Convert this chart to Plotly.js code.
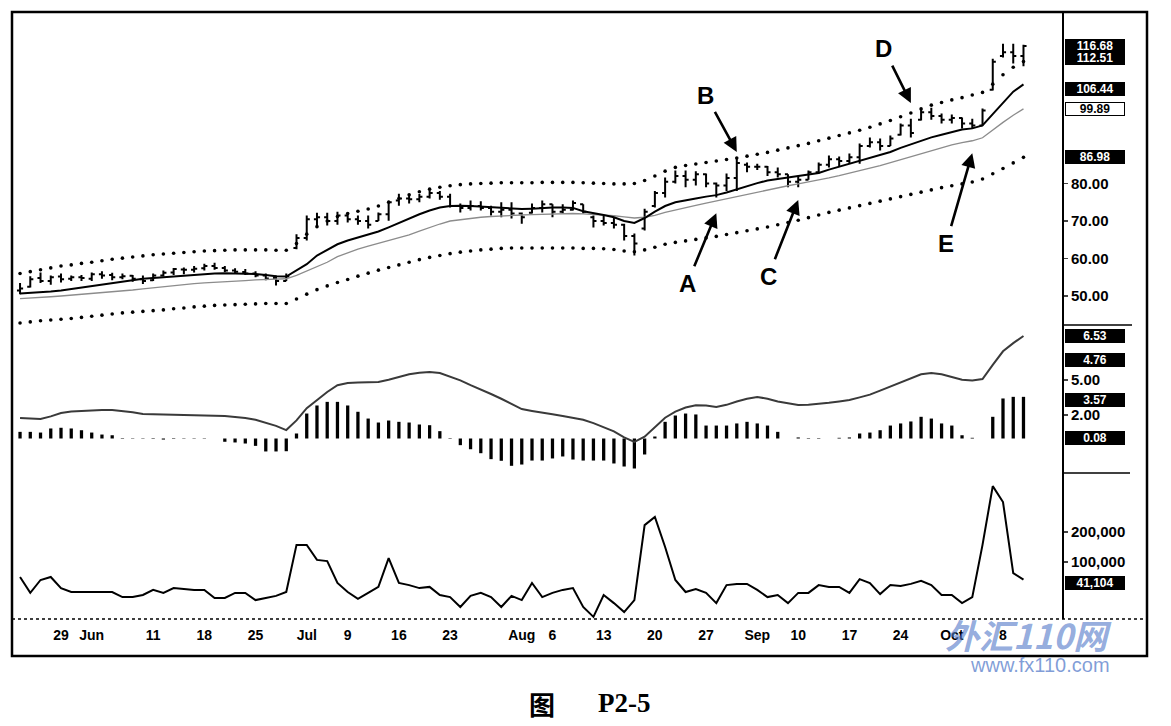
<!DOCTYPE html>
<html>
<head>
<meta charset="utf-8">
<script src="https://cdn.plot.ly/plotly-3.0.1.min.js"></script>
<style>html,body{margin:0;padding:0;background:#fff;}#chart{width:1171px;height:726px;}</style>
</head>
<body>
<div id="chart"></div>
<script>
// ---------- data ----------
const dates = [
 'May 22','May 23','May 24','May 25','May 29','May 30','May 31','Jun 1','Jun 4','Jun 5',
 'Jun 6','Jun 7','Jun 8','Jun 11','Jun 12','Jun 13','Jun 14','Jun 15','Jun 18','Jun 19',
 'Jun 20','Jun 21','Jun 22','Jun 25','Jun 26','Jun 27','Jun 28','Jun 29','Jul 2','Jul 3',
 'Jul 5','Jul 6','Jul 9','Jul 10','Jul 11','Jul 12','Jul 13','Jul 16','Jul 17','Jul 18',
 'Jul 19','Jul 20','Jul 23','Jul 24','Jul 25','Jul 26','Jul 27','Jul 30','Jul 31','Aug 1',
 'Aug 2','Aug 3','Aug 6','Aug 7','Aug 8','Aug 9','Aug 10','Aug 13','Aug 14','Aug 15',
 'Aug 16','Aug 17','Aug 20','Aug 21','Aug 22','Aug 23','Aug 24','Aug 27','Aug 28','Aug 29',
 'Aug 30','Aug 31','Sep 4','Sep 5','Sep 6','Sep 7','Sep 10','Sep 11','Sep 12','Sep 13',
 'Sep 14','Sep 17','Sep 18','Sep 19','Sep 20','Sep 21','Sep 24','Sep 25','Sep 26','Sep 27',
 'Sep 28','Oct 1','Oct 2','Oct 3','Oct 4','Oct 5','Oct 8','Oct 9','Oct 10'
];
const open = [
 51.5,52.5,54.8,54.0,55.2,54.6,55.0,54.6,55.8,55.6,
 55.0,55.4,54.5,54.2,55.5,56.3,57.1,57.0,57.4,58.0,
 57.5,56.8,56.4,56.0,55.5,54.8,54.0,62.8,65.5,70.5,
 71.0,70.0,71.5,70.5,70.0,70.0,71.8,75.5,76.0,75.8,
 76.5,77.5,76.5,74.0,73.5,74.0,73.5,72.5,73.0,72.0,
 72.2,73.5,74.5,72.5,73.0,74.5,71.0,70.0,69.5,69.0,
 66.0,68.0,74.0,77.5,80.5,82.0,81.0,82.5,80.0,79.5,
 81.5,85.0,84.5,84.5,83.0,82.5,80.5,81.0,83.0,85.0,
 86.5,86.0,87.0,90.0,91.0,90.0,93.0,95.5,97.0,99.0,
 98.0,97.0,97.5,96.0,95.5,105.0,114.0,115.0,114.0
];
const high = [
 53.5,55.3,56.3,55.5,56.0,55.5,55.6,56.3,56.6,56.2,
 56.0,55.6,55.5,56.0,56.8,57.5,57.6,58.0,58.6,58.9,
 58.0,57.4,57.2,56.6,56.0,55.5,56.0,66.5,71.5,72.2,
 72.2,72.5,72.0,71.5,71.5,72.3,75.5,77.3,77.0,77.2,
 78.2,78.0,77.3,74.7,75.5,75.3,74.1,75.0,75.0,72.3,
 74.7,75.5,74.5,74.5,75.5,74.5,71.5,71.5,71.0,69.3,
 66.7,73.3,78.0,81.6,83.5,83.5,83.3,82.7,80.3,82.7,
 86.7,85.6,85.3,84.7,84.3,82.5,82.0,83.5,85.6,87.5,
 87.2,88.0,90.7,92.3,92.0,92.8,96.0,97.3,100.0,100.2,
 98.7,98.4,97.6,97.3,100.0,113.3,117.3,117.3,117.0
];
const low = [
 50.5,52.3,53.5,53.0,53.6,54.0,54.0,54.0,54.6,54.2,
 54.5,53.8,53.2,54.0,55.2,55.6,55.8,56.3,56.8,57.0,
 56.4,56.0,55.6,55.0,54.2,52.8,54.0,62.5,64.8,68.2,
 68.8,69.0,69.6,69.0,68.0,70.0,70.1,74.1,74.7,75.0,
 76.0,75.7,73.6,72.3,72.8,72.8,71.5,71.0,70.7,69.3,
 72.0,72.3,71.0,72.0,72.8,72.0,68.3,68.8,68.0,64.8,
 60.8,67.5,73.6,76.3,80.0,79.0,79.5,79.0,76.3,78.0,
 78.0,83.0,83.6,82.0,81.6,79.0,79.0,81.0,82.7,84.3,
 84.5,85.3,85.3,89.6,88.8,90.0,92.8,92.3,96.8,97.0,
 96.0,96.0,94.7,94.7,95.5,104.8,113.6,112.0,111.3
];
const close = [
 52.0,54.5,54.0,55.0,54.5,55.0,54.8,55.8,55.5,55.0,
 55.3,54.6,54.0,55.5,56.2,57.2,57.0,57.3,58.0,57.5,
 56.8,56.5,56.0,55.5,54.7,54.0,55.2,65.5,70.5,71.0,
 70.0,71.5,70.5,70.0,69.0,71.8,75.0,76.0,75.8,76.5,
 77.5,76.5,74.0,73.5,74.0,73.5,72.5,73.0,72.0,71.0,
 73.5,74.5,72.5,73.0,74.8,72.5,70.0,69.5,69.0,66.0,
 64.0,72.5,77.5,80.5,82.0,81.0,82.5,80.0,79.5,81.5,
 85.5,84.5,84.5,83.0,82.5,80.5,81.0,83.0,85.0,86.5,
 86.0,87.0,90.0,91.0,90.0,92.0,95.5,93.5,99.0,98.0,
 97.0,97.5,96.0,95.5,99.5,112.5,115.0,114.0,116.68
];
const maFast = [
 50.7,50.8,50.9,51.2,51.5,51.9,52.3,52.7,53.0,53.5,
 53.9,54.2,54.6,54.8,55.0,55.3,55.6,55.8,56.0,56.0,
 56.1,56.1,56.0,55.9,55.6,55.3,55.2,56.8,58.5,60.8,
 62.3,63.8,64.8,65.6,66.3,67.2,68.3,69.5,70.7,71.8,
 72.8,73.6,74.0,74.1,74.0,73.8,73.6,73.4,73.3,73.2,
 73.3,73.5,73.6,73.6,73.5,72.6,72.2,71.6,71.0,70.0,
 69.5,70.8,72.5,74.0,75.0,75.6,76.0,76.5,76.9,77.6,
 78.5,79.3,80.1,80.8,81.2,81.5,81.8,82.2,82.8,83.7,
 84.5,85.2,86.0,86.8,87.6,88.4,89.5,90.5,91.5,92.3,
 93.0,93.7,94.4,94.7,95.5,98.5,101.5,104.5,106.44
];
const maSlow = [
 49.3,49.4,49.6,49.8,50.0,50.2,50.4,50.6,50.8,51.0,
 51.3,51.6,51.9,52.2,52.5,52.8,53.1,53.3,53.5,53.6,
 53.8,54.0,54.1,54.3,54.4,54.5,54.6,55.5,56.6,57.8,
 59.0,60.5,61.6,62.5,63.3,64.0,64.7,65.4,66.3,67.3,
 68.3,69.2,70.0,70.4,70.7,71.0,71.2,71.4,71.5,71.6,
 71.7,71.8,71.9,72.0,72.0,71.9,71.8,71.6,71.4,71.1,
 70.8,71.0,71.5,72.3,73.0,73.6,74.2,74.8,75.4,76.0,
 76.6,77.1,77.7,78.3,78.9,79.4,79.9,80.4,80.9,81.5,
 82.1,82.7,83.4,84.1,84.8,85.6,86.4,87.2,88.0,88.8,
 89.6,90.3,90.9,91.4,92.2,94.3,96.3,98.2,99.89
];
const envUpper = [
 56.0,56.5,57.0,57.5,58.0,58.3,58.7,59.0,59.4,59.8,
 60.1,60.4,60.7,61.0,61.2,61.4,61.6,61.8,62.0,62.1,
 62.2,62.3,62.3,62.3,62.3,62.2,62.2,64.0,66.5,68.5,
 70.0,71.2,72.0,72.6,73.2,74.0,75.0,76.0,77.0,77.8,
 78.5,79.0,79.4,79.7,79.9,80.0,80.1,80.2,80.2,80.2,
 80.2,80.3,80.3,80.3,80.3,80.2,80.1,80.0,79.9,79.9,
 80.0,80.8,82.0,83.3,84.3,84.8,85.2,85.6,86.0,86.4,
 86.8,87.3,87.8,88.3,88.9,89.5,90.1,90.7,91.4,92.1,
 92.8,93.5,94.2,95.0,95.9,96.8,97.8,98.8,99.9,100.9,
 101.6,102.3,102.9,103.6,104.3,106.5,109.0,111.0,112.51
];
const envLower = [
 42.8,43.1,43.4,43.6,43.8,44.0,44.3,44.6,44.9,45.2,
 45.5,45.7,45.9,46.1,46.3,46.6,46.8,47.1,47.3,47.5,
 47.6,47.7,47.8,47.9,48.0,48.0,48.0,49.2,50.5,51.7,
 52.7,53.6,54.4,55.3,56.1,56.9,57.6,58.3,59.0,59.7,
 60.3,60.8,61.3,61.7,62.0,62.3,62.5,62.7,62.8,62.8,
 62.8,62.8,62.8,62.8,62.8,62.7,62.7,62.6,62.4,62.0,
 61.8,62.3,63.0,63.8,64.3,64.7,65.1,65.5,65.9,66.4,
 66.9,67.4,67.9,68.4,69.0,69.6,70.2,70.9,71.6,72.3,
 72.9,73.5,74.1,74.7,75.3,75.9,76.5,77.1,77.7,78.3,
 78.9,79.4,79.9,80.4,81.2,82.6,84.0,85.5,86.98
];
const macdHist = [
 0.57,0.57,0.51,0.86,0.92,0.86,0.71,0.51,0.34,0.28,
 0.04,0.03,-0.03,-0.04,-0.09,-0.04,-0.03,-0.03,-0.03,0,
 -0.28,-0.34,-0.43,-0.63,-1.11,-1.11,-1.09,0.43,2.14,2.83,
 3.14,3.14,2.83,2.29,1.71,1.37,1.54,1.43,1.37,1.2,
 1.14,0.63,0.04,-0.57,-0.92,-1.26,-1.77,-1.91,-2.34,-2.23,
 -1.89,-1.89,-1.71,-1.54,-1.8,-1.89,-1.89,-1.89,-2.14,-2.4,
 -2.57,-1.37,0.17,1.43,1.97,2.14,2.06,1.11,1.11,1.11,
 1.29,1.43,1.29,1.11,0.57,0,0.09,0.04,0.04,0,
 0.06,0.09,0.43,0.51,0.71,1.11,1.29,1.46,1.86,1.71,
 1.29,1.11,0.28,0.06,0,1.86,3.43,3.57,3.57
];
const macdLine = [
 0.48,0.45,0.41,0.6,0.85,0.95,1.0,1.05,1.07,1.07,
 1.0,0.9,0.77,0.75,0.74,0.73,0.72,0.71,0.70,0.68,
 0.62,0.55,0.48,0.35,0.15,-0.1,-0.41,0.3,1.2,1.8,
 2.4,2.9,3.06,3.1,3.12,3.13,3.3,3.5,3.7,3.82,
 3.87,3.8,3.55,3.25,2.9,2.6,2.25,1.9,1.5,1.14,
 1.0,0.85,0.75,0.62,0.5,0.35,0.1,-0.2,-0.5,-0.95,
 -1.29,-0.9,-0.2,0.5,0.95,1.25,1.42,1.4,1.3,1.45,
 1.7,1.9,2.03,1.9,1.7,1.55,1.44,1.45,1.5,1.6,
 1.7,1.8,2.0,2.2,2.5,2.8,3.1,3.4,3.7,3.8,
 3.7,3.5,3.3,3.25,3.35,4.4,5.4,6.0,6.53
];
const volume = [
 50000,-3000,40000,50000,13000,0,0,0,0,0,
 -17000,-17000,-10000,7000,-3000,13000,10000,7000,7000,-20000,
 -20000,-3000,-3000,-27000,-20000,-13000,0,157000,157000,107000,
 103000,30000,0,-23000,-3000,17000,113000,30000,23000,13000,
 17000,-10000,-17000,-50000,-13000,-3000,-17000,-50000,-13000,-27000,
 30000,-17000,-3000,7000,13000,-50000,-83000,-10000,-37000,-67000,
 -27000,223000,250000,150000,40000,0,10000,-3000,-37000,23000,
 27000,27000,7000,-17000,-10000,-37000,-3000,-3000,23000,17000,
 17000,-3000,43000,30000,-7000,23000,20000,27000,37000,23000,
 -10000,-10000,-37000,-17000,157000,353000,300000,63000,41104
];
const tickDates = ['May 29','Jun 1','Jun 11','Jun 18','Jun 25','Jul 2','Jul 9','Jul 16','Jul 23','Aug 1',
 'Aug 6','Aug 13','Aug 20','Aug 27','Sep 4','Sep 10','Sep 17','Sep 24','Oct 1','Oct 8'];
const tickText = ['29','Jun','11','18','25','Jul','9','16','23','Aug',
 '6','13','20','27','Sep','10','17','24','Oct','8'];
const priceTicks = [50, 60, 70, 80];
const macdTicks = [2, 5];
const volumeTicks = [100000, 200000];
const annLabels = ['A','B','C','D','E'];
const annDates = ['Aug 28','Aug 30','Sep 10','Sep 25','Oct 3'];
const annPrices = [72.1, 88.4, 75.6, 101.5, 88.1];
const macdSignalLast = 4.76;
const macdZeroLabel = 0.08;

// ---------- styling ----------
const annOffsets = [[-29,70],[-31,-57],[-30,76],[-27,-54],[-26,90]];
const FONT = 'Liberation Sans, Arial, sans-serif';
const last = a => a[a.length - 1];

const traces = [
  {type:'scatter', mode:'markers', x:dates, y:envUpper, xaxis:'x', yaxis:'y',
   marker:{color:'#000', size:3.6}, hoverinfo:'skip'},
  {type:'scatter', mode:'markers', x:dates, y:envLower, xaxis:'x', yaxis:'y',
   marker:{color:'#000', size:3.6}, hoverinfo:'skip'},
  {type:'scatter', mode:'lines', x:dates, y:maSlow, xaxis:'x', yaxis:'y',
   line:{color:'#8c8c8c', width:1.3}},
  {type:'scatter', mode:'lines', x:dates, y:maFast, xaxis:'x', yaxis:'y',
   line:{color:'#000', width:2}},
  {type:'ohlc', x:dates, open:open, high:high, low:low, close:close, xaxis:'x', yaxis:'y',
   increasing:{line:{color:'#000', width:2}}, decreasing:{line:{color:'#000', width:2}},
   tickwidth:0.3},
  {type:'bar', x:dates, y:macdHist, xaxis:'x', yaxis:'y2', width:0.32,
   marker:{color:'#000', line:{width:0}}},
  {type:'scatter', mode:'lines', x:dates, y:macdLine, xaxis:'x', yaxis:'y4',
   line:{color:'#3a3a3a', width:2}},
  {type:'scatter', mode:'lines', x:dates, y:volume, xaxis:'x', yaxis:'y3',
   line:{color:'#000', width:2}}
];

function px2paperX(px){ return (px - 14) / 1049; }
function px2paperY(py){ return (619 - py) / 605; }

function box(text, yref, y, opts) {
  opts = opts || {};
  return {xref:'paper', yref:yref, x:px2paperX(1065), y:y, xanchor:'left', yanchor:'middle',
    text:text, showarrow:false, yshift:opts.shift || 0, width:58, height:12, align:'center',
    bgcolor:opts.white ? '#fff' : '#000', bordercolor:'#000', borderwidth:1, borderpad:0,
    font:{family:FONT, size:12, color:opts.white ? '#000' : '#fff', weight:'bold'}};
}

const annotations = [];
annLabels.forEach((t, i) => {
  annotations.push({x:annDates[i], y:annPrices[i], xref:'x', yref:'y', text:t,
    showarrow:true, ax:annOffsets[i][0], ay:annOffsets[i][1], arrowhead:2, arrowsize:1.1,
    arrowwidth:2.6, arrowcolor:'#000', standoff:0, startstandoff:2,
    font:{family:FONT, size:24, color:'#000', weight:'bold'}});
});
annotations.push(box(last(close).toFixed(2), 'y', last(close)));
annotations.push(box(last(envUpper).toFixed(2), 'y', last(envUpper), {shift:4}));
annotations.push(box(last(maFast).toFixed(2), 'y', last(maFast), {shift:-5}));
annotations.push(box(last(maSlow).toFixed(2), 'y', last(maSlow), {white:true}));
annotations.push(box(last(envLower).toFixed(2), 'y', last(envLower)));
annotations.push(box(last(macdLine).toFixed(2), 'y4', last(macdLine)));
annotations.push(box(macdSignalLast.toFixed(2), 'y4', macdSignalLast));
annotations.push(box(last(macdHist).toFixed(2), 'y2', last(macdHist), {shift:-3}));
annotations.push(box(macdZeroLabel.toFixed(2), 'y2', macdZeroLabel));
annotations.push(box(last(volume).toLocaleString('en-US'), 'y3', last(volume), {shift:-3}));
// watermark + caption
annotations.push({xref:'paper', yref:'paper', x:px2paperX(1028), y:px2paperY(634), xanchor:'center', yanchor:'middle',
  text:'<i><b>外汇110网</b></i>', showarrow:false,
  font:{family:'Noto Sans CJK SC, sans-serif', size:34, color:'rgba(80,120,200,0.62)'}});
annotations.push({xref:'paper', yref:'paper', x:px2paperX(1040), y:px2paperY(665), xanchor:'center', yanchor:'middle',
  text:'www.fx110.com', showarrow:false,
  font:{family:FONT, size:20, color:'rgba(80,120,200,0.72)'}});
annotations.push({xref:'paper', yref:'paper', x:px2paperX(542), y:px2paperY(703), xanchor:'center', yanchor:'middle',
  text:'图', showarrow:false, font:{family:'Noto Sans CJK SC, sans-serif', size:26, color:'#000', weight:'bold'}});
annotations.push({xref:'paper', yref:'paper', x:px2paperX(624), y:px2paperY(703), xanchor:'center', yanchor:'middle',
  text:'P2-5', showarrow:false, font:{family:'Liberation Serif, serif', size:27, color:'#000', weight:'bold'}});

const shapes = [
  {type:'rect', xref:'paper', yref:'paper', x0:px2paperX(12), x1:px2paperX(1147), y0:px2paperY(656), y1:px2paperY(12),
   line:{color:'#000', width:2.5}, layer:'above'},
  {type:'line', xref:'paper', yref:'paper', x0:px2paperX(12), x1:px2paperX(1147), y0:0, y1:0,
   line:{color:'#000', width:1.5, dash:'dot'}},
  {type:'line', xref:'paper', yref:'paper', x0:1, x1:px2paperX(1132), y0:px2paperY(325), y1:px2paperY(325),
   line:{color:'#000', width:1.5}},
  {type:'line', xref:'paper', yref:'paper', x0:1, x1:px2paperX(1130), y0:px2paperY(473), y1:px2paperY(473),
   line:{color:'#000', width:1.5}},
  {type:'line', xref:'paper', yref:'paper', x0:1, x1:1, y0:0, y1:px2paperY(12),
   line:{color:'#000', width:2}}
];

const tickFont = {family:FONT, size:15, color:'#000', weight:'bold'};
const layout = {
  width:1171, height:726,
  margin:{l:14, r:108, t:14, b:107},
  paper_bgcolor:'#fff', plot_bgcolor:'#fff',
  showlegend:false,
  separators:'.,',
  xaxis:{type:'category', anchor:'y3', range:[-0.59, 101.86], tickmode:'array',
    tickvals:tickDates, ticktext:tickText, showgrid:false, zeroline:false, showline:false, ticks:'',
    ticklabelstandoff:6,
    tickfont:{family:'Liberation Sans Narrow, Liberation Sans, Arial', size:14, color:'#000', weight:'bold'},
    rangeslider:{visible:false}},
  yaxis:{domain:[px2paperY(325), 1], range:[42.27, 125.2], side:'right', anchor:'x',
    tickmode:'array', tickvals:priceTicks, tickformat:'.2f', ticks:'outside', ticklen:4, tickwidth:1.5,
    showgrid:false, zeroline:false, showline:false, tickfont:tickFont},
  yaxis2:{domain:[px2paperY(473), px2paperY(325)], range:[-2.956, 9.726], side:'right', anchor:'x',
    tickmode:'array', tickvals:macdTicks, tickformat:'.2f', ticks:'outside', ticklen:4, tickwidth:1.5,
    showgrid:false, zeroline:false, showline:false, tickfont:tickFont},
  yaxis4:{overlaying:'y2', range:[-3.577, 7.338], side:'right', visible:false, showgrid:false, zeroline:false},
  yaxis3:{domain:[0, px2paperY(473)], range:[-90000, 396667], side:'right', anchor:'x',
    tickmode:'array', tickvals:volumeTicks, tickformat:',d', ticks:'outside', ticklen:4, tickwidth:1.5,
    showgrid:false, zeroline:false, showline:false, tickfont:tickFont},
  annotations:annotations,
  shapes:shapes
};

Plotly.newPlot('chart', traces, layout, {staticPlot:true, displayModeBar:false});
</script>
</body>
</html>
